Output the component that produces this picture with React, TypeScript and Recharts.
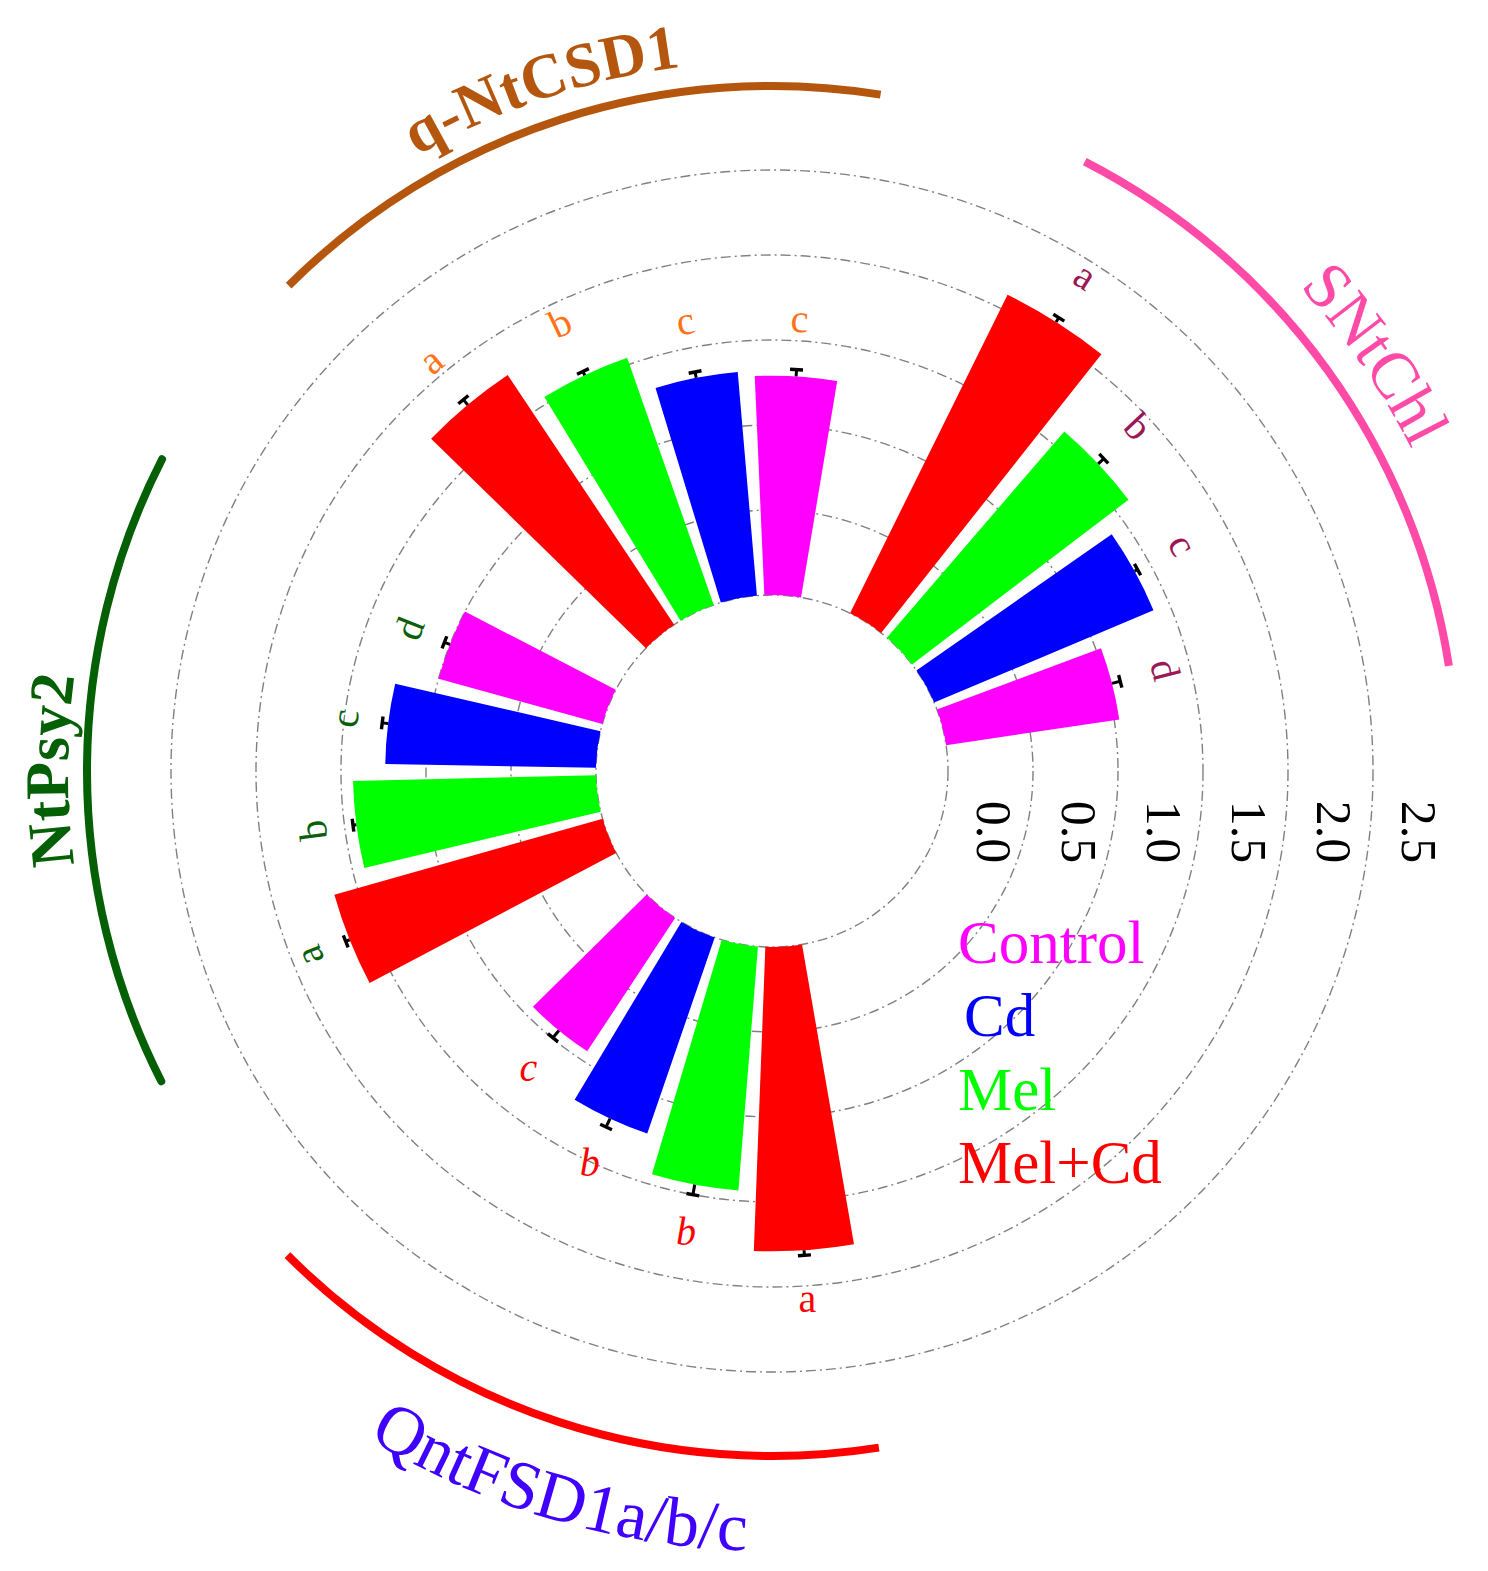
import React from 'react';
import {
  RadialBarChart,
  RadialBar,
  PolarAngleAxis,
  PolarRadiusAxis,
  PolarGrid,
  Cell,
  Sector,
  Customized,
} from 'recharts';

// ---------------- data ----------------
const GROUPS = ['QntFSD1a/b/c', 'NtPsy2', 'q-NtCSD1', 'SNtChl'];
// clockwise order of the bars inside each group
const TREATMENTS = ['Mel+Cd', 'Mel', 'Cd', 'Control'];
const LEGEND_ORDER = ['Control', 'Cd', 'Mel', 'Mel+Cd'];

const QNTFSD1_VALUES = [1.79, 1.44, 1.22, 0.94];
const QNTFSD1_ERRORS = [0.03, 0.06, 0.055, 0.055];
const QNTFSD1_LETTERS = ['a', 'b', 'b', 'c'];

const NTPSY2_VALUES = [1.64, 1.43, 1.24, 1.0];
const NTPSY2_ERRORS = [0.025, 0.02, 0.035, 0.035];
const NTPSY2_LETTERS = ['a', 'b', 'c', 'd'];

const QNTCSD1_VALUES = [1.765, 1.54, 1.32, 1.29];
const QNTCSD1_ERRORS = [0.04, 0.025, 0.035, 0.04];
const QNTCSD1_LETTERS = ['a', 'b', 'c', 'c'];

const SNTCHL_VALUES = [2.09, 1.6, 1.4, 1.03];
const SNTCHL_ERRORS = [0.03, 0.045, 0.02, 0.05];
const SNTCHL_LETTERS = ['a', 'b', 'c', 'd'];

const RADIUS_TICKS = [0, 0.5, 1, 1.5, 2, 2.5];

// ---------------- styles ----------------
const TREATMENT_COLORS: Record<string, string> = {
  Control: '#ff00ff',
  Cd: '#0000ff',
  Mel: '#00ff00',
  'Mel+Cd': '#ff0000',
};

const GROUP_STYLE: Record<string, any> = {
  'QntFSD1a/b/c': { arc: '#ff0000', text: '#4000ff', letter: '#ff0000', bold: false, fs: 69, textR: 780, shift: -1.5, inward: true, cap: 'butt', letterOffset: 48, upright: true },
  NtPsy2: { arc: '#056005', text: '#056005', letter: '#0b5f0b', bold: true, fs: 62, textR: 704, shift: 0, inward: false, cap: 'round', letterOffset: 44, upright: false },
  'q-NtCSD1': { arc: '#b4560e', text: '#b4560e', letter: '#ff7216', bold: true, fs: 63, textR: 710, shift: -0.8, inward: false, cap: 'butt', letterOffset: 58, upright: false },
  SNtChl: { arc: '#ff4aa8', text: '#ff4aa8', letter: '#9c1758', bold: false, fs: 66, textR: 716, shift: 1.2, inward: false, cap: 'butt', letterOffset: 55, upright: false },
};

const FONT = "'Liberation Serif', 'Times New Roman', Times, serif";

const W = 1488;
const H = 1571;
const CX = 772;
const CY = 771;
const R_INNER = 176;
const R_OUTER = 601;
const FIRST_EDGE = 169.2; // compass degrees (clockwise from 12 o'clock)
const BAND = 14.41;

// ---------------- build table ----------------
const GROUP_DATA = [
  { group: GROUPS[0], values: QNTFSD1_VALUES, errors: QNTFSD1_ERRORS, letters: QNTFSD1_LETTERS },
  { group: GROUPS[1], values: NTPSY2_VALUES, errors: NTPSY2_ERRORS, letters: NTPSY2_LETTERS },
  { group: GROUPS[2], values: QNTCSD1_VALUES, errors: QNTCSD1_ERRORS, letters: QNTCSD1_LETTERS },
  { group: GROUPS[3], values: SNTCHL_VALUES, errors: SNTCHL_ERRORS, letters: SNTCHL_LETTERS },
];

const data: any[] = [];
const groupFirstIndex: Record<string, number> = {};
GROUP_DATA.forEach((g, gi) => {
  if (gi > 0) data.push({ name: `gap${gi}`, value: null, fill: 'none' });
  groupFirstIndex[g.group] = data.length;
  TREATMENTS.forEach((t, ti) => {
    data.push({
      name: `${g.group}|${t}`,
      group: g.group,
      treatment: t,
      value: g.values[ti],
      err: g.errors[ti],
      letter: g.letters[ti],
      fill: TREATMENT_COLORS[t],
    });
  });
});

// recharts draws each band from its start towards increasing angle,
// so the range is shifted by one band to land the bands clockwise from FIRST_EDGE
const START_ANGLE = 90 - FIRST_EDGE - BAND;
const END_ANGLE = START_ANGLE - BAND * data.length;

// ---------------- helpers ----------------
const RAD = Math.PI / 180;
const polar = (cx: number, cy: number, r: number, angle: number) => ({
  x: cx + Math.cos(-angle * RAD) * r,
  y: cy + Math.sin(-angle * RAD) * r,
});
const compassXY = (r: number, c: number) => ({
  x: CX + r * Math.sin(c * RAD),
  y: CY - r * Math.cos(c * RAD),
});

function BarShape(props: any) {
  const { cx, cy, innerRadius, outerRadius, startAngle, endAngle, payload } = props;
  if (!payload || payload.value == null || !isFinite(outerRadius)) return null;
  const st = GROUP_STYLE[payload.group];
  const mid = (startAngle + endAngle) / 2;
  const v = payload.value;
  const rErr = innerRadius + ((outerRadius - innerRadius) * (v + payload.err)) / v;
  const p1 = polar(cx, cy, outerRadius, mid);
  const p2 = polar(cx, cy, rErr, mid);
  const tx = Math.sin(mid * RAD);
  const ty = Math.cos(mid * RAD);
  const half = 6.5;
  const pl = polar(cx, cy, outerRadius + st.letterOffset, mid);
  let comp = (((90 - mid) % 360) + 360) % 360;
  if (comp > 180) comp -= 360;
  const rot = st.upright ? 0 : comp;
  const italic = st.upright && payload.letter !== 'a';
  return (
    <g>
      <Sector
        cx={cx}
        cy={cy}
        innerRadius={innerRadius}
        outerRadius={outerRadius}
        startAngle={startAngle}
        endAngle={endAngle}
        fill={payload.fill}
        stroke="none"
      />
      <line x1={p1.x} y1={p1.y} x2={p2.x} y2={p2.y} stroke="#000" strokeWidth={3} />
      <line
        x1={p2.x - tx * half}
        y1={p2.y - ty * half}
        x2={p2.x + tx * half}
        y2={p2.y + ty * half}
        stroke="#000"
        strokeWidth={3.4}
      />
      <text
        x={pl.x}
        y={pl.y}
        transform={`rotate(${rot}, ${pl.x}, ${pl.y})`}
        textAnchor="middle"
        dominantBaseline="central"
        fontFamily={FONT}
        fontSize={40}
        fontStyle={italic ? 'italic' : 'normal'}
        fill={st.letter}
      >
        {payload.letter}
      </text>
    </g>
  );
}

function RadiusTick(props: any) {
  const { x, y, payload } = props;
  const tx = x + 29;
  const ty = y + 61;
  return (
    <text
      x={tx}
      y={ty}
      transform={`rotate(90, ${tx}, ${ty})`}
      textAnchor="middle"
      fontFamily={FONT}
      fontSize={50}
      fill="#000"
    >
      {Number(payload.value).toFixed(1)}
    </text>
  );
}

function Decorations() {
  return (
    <g>
      <defs>
        {GROUP_DATA.map((g, gi) => {
          const st = GROUP_STYLE[g.group];
          const c = FIRST_EDGE + BAND * (groupFirstIndex[g.group] + 2) + st.shift;
          const r = st.textR;
          const a = compassXY(r, st.inward ? c + 60 : c - 60);
          const b = compassXY(r, st.inward ? c - 60 : c + 60);
          return (
            <path
              key={gi}
              id={`title-path-${gi}`}
              d={`M ${a.x} ${a.y} A ${r} ${r} 0 0 ${st.inward ? 0 : 1} ${b.x} ${b.y}`}
              fill="none"
            />
          );
        })}
      </defs>
      {GROUP_DATA.map((g, gi) => {
        const st = GROUP_STYLE[g.group];
        const c = FIRST_EDGE + BAND * (groupFirstIndex[g.group] + 2);
        const r = 685;
        const a = compassXY(r, c - 27);
        const b = compassXY(r, c + 27);
        return (
          <path
            key={`arc-${gi}`}
            d={`M ${a.x} ${a.y} A ${r} ${r} 0 0 1 ${b.x} ${b.y}`}
            fill="none"
            stroke={st.arc}
            strokeWidth={8}
            strokeLinecap={st.cap}
          />
        );
      })}
      {GROUP_DATA.map((g, gi) => {
        const st = GROUP_STYLE[g.group];
        return (
          <text
            key={`title-${gi}`}
            fontFamily={FONT}
            fontSize={st.fs}
            fontWeight={st.bold ? 'bold' : 'normal'}
            fill={st.text}
          >
            <textPath href={`#title-path-${gi}`} startOffset="50%" textAnchor="middle">
              {g.group}
            </textPath>
          </text>
        );
      })}
      {LEGEND_ORDER.map((t, i) => (
        <text
          key={`leg-${t}`}
          x={t === 'Cd' ? 964 : 958}
          y={963 + i * 73.4}
          fontFamily={FONT}
          fontSize={61}
          fill={TREATMENT_COLORS[t]}
        >
          {t}
        </text>
      ))}
    </g>
  );
}

export default function App() {
  return (
    <div style={{ position: 'absolute', left: 0, top: 0, width: W, height: H, background: '#fff' }}>
      <RadialBarChart
        width={W}
        height={H}
        data={data}
        layout="centric"
        cx={CX}
        cy={CY}
        innerRadius={R_INNER}
        outerRadius={R_OUTER}
        startAngle={START_ANGLE}
        endAngle={END_ANGLE}
        margin={{ top: 0, right: 0, bottom: 0, left: 0 }}
        barCategoryGap="10%"
      >
        <PolarGrid
          gridType="circle"
          radialLines={false}
          stroke="#808080"
          strokeWidth={1.4}
          strokeDasharray="10 4 2 4"
        />
        <PolarAngleAxis type="category" dataKey="name" tick={false} axisLine={false} tickLine={false} />
        <PolarRadiusAxis
          type="number"
          angle={0}
          domain={[RADIUS_TICKS[0], RADIUS_TICKS[RADIUS_TICKS.length - 1]]}
          allowDataOverflow
          allowDecimals
          ticks={RADIUS_TICKS as any}
          tickCount={RADIUS_TICKS.length}
          axisLine={false}
          tickLine={false}
          tick={RadiusTick}
        />
        <RadialBar dataKey="value" isAnimationActive={false} shape={BarShape}>
          {data.map((d, i) => (
            <Cell key={i} fill={d.fill} />
          ))}
        </RadialBar>
        <Customized component={Decorations} />
      </RadialBarChart>
    </div>
  );
}
